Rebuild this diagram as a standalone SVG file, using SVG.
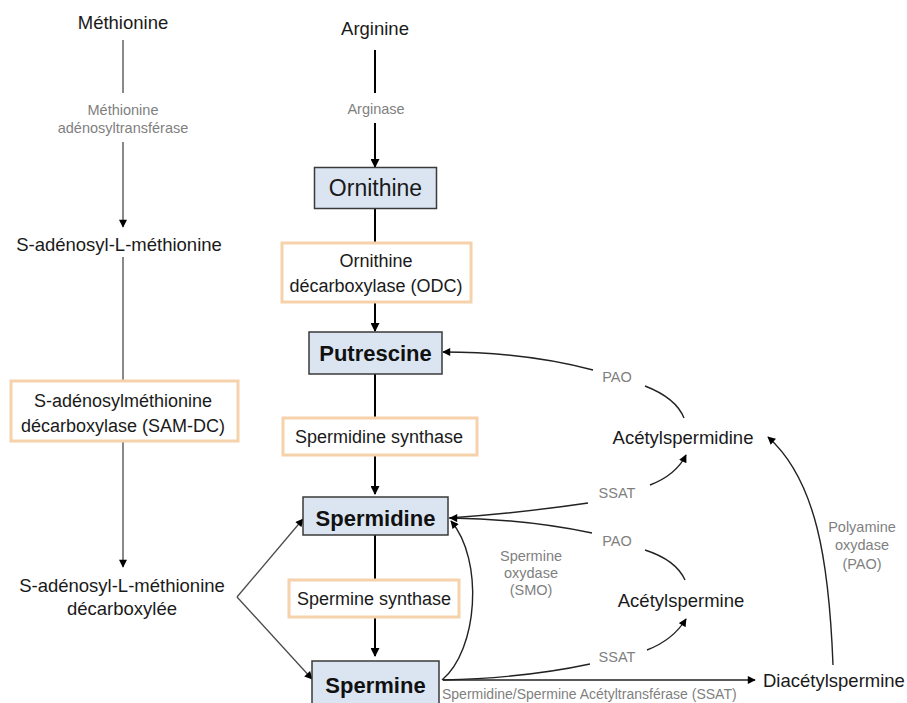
<svg xmlns="http://www.w3.org/2000/svg" width="907" height="703" viewBox="0 0 907 703">
<style>
.t{font-family:"Liberation Sans",Arial,sans-serif;fill:#1a1a1a;font-size:18.5px;text-anchor:middle;dominant-baseline:central}
.bt{font-family:"Liberation Sans",Arial,sans-serif;fill:#1a1a1a;font-size:18px;text-anchor:middle;dominant-baseline:central}
.g{font-family:"Liberation Sans",Arial,sans-serif;fill:#7f7f7f;font-size:14.5px;text-anchor:middle;dominant-baseline:central}
.b{font-family:"Liberation Sans",Arial,sans-serif;fill:#111;font-size:22px;font-weight:bold;text-anchor:middle;dominant-baseline:central}
.mol{fill:#dbe5f1;stroke:#3a3a3a;stroke-width:1.5}
.enz{fill:#fff;stroke:#f5d2ab;stroke-width:3}
.thin{fill:none;stroke:#4a4a4a;stroke-width:1.3}
.thk{fill:none;stroke:#000;stroke-width:2}
.cur{fill:none;stroke:#222;stroke-width:1.4}
</style>
<defs>
<marker id="ah" viewBox="0 0 10 10" refX="9" refY="5" markerWidth="9" markerHeight="8" markerUnits="userSpaceOnUse" orient="auto"><path d="M0,0 L10,5 L0,10 z" fill="#000"/></marker>
<marker id="ahb" viewBox="0 0 10 10" refX="9" refY="5" markerWidth="10" markerHeight="9" markerUnits="userSpaceOnUse" orient="auto"><path d="M0,0 L10,5 L0,10 z" fill="#000"/></marker>
</defs>
<rect width="907" height="703" fill="#fff"/>

<g id="connectors">
<line class="thin" x1="123" y1="40" x2="123" y2="93"/>
<line class="thin" x1="123" y1="142" x2="123" y2="227" marker-end="url(#ah)"/>
<line class="thin" x1="123" y1="257" x2="123" y2="381"/>
<line class="thin" x1="123" y1="442" x2="123" y2="567" marker-end="url(#ah)"/>
<line class="thin" x1="237" y1="597" x2="303" y2="519" marker-end="url(#ah)"/>
<line class="thin" x1="237" y1="597" x2="312" y2="679" marker-end="url(#ah)"/>

<line class="thk" x1="375" y1="50" x2="375" y2="93"/>
<line class="thk" x1="375" y1="123" x2="375" y2="167" marker-end="url(#ahb)"/>
<line class="thk" x1="375" y1="209" x2="375" y2="243"/>
<line class="thk" x1="375" y1="302" x2="375" y2="331" marker-end="url(#ahb)"/>
<line class="thk" x1="375" y1="374" x2="375" y2="418"/>
<line class="thk" x1="375" y1="455" x2="375" y2="494" marker-end="url(#ahb)"/>
<line class="thk" x1="375" y1="535" x2="375" y2="580"/>
<line class="thk" x1="375" y1="617" x2="375" y2="656" marker-end="url(#ahb)"/>

<path class="cur" d="M593,370 Q525,352 443,352" marker-end="url(#ah)"/>
<path class="cur" d="M645,386 Q676,398 684,418"/>
<path class="cur" d="M449,518 Q520,513 588,503"/>
<path class="cur" d="M650,485 Q676,475 686,455" marker-end="url(#ah)"/>
<path class="cur" d="M685,580 Q676,560 645,550"/>
<path class="cur" d="M592,533 Q525,519 450,518" marker-end="url(#ah)"/>
<path class="cur" d="M442,680 C478,650 484,560 451,521" marker-end="url(#ah)"/>
<path class="cur" d="M443,680 Q525,678 590,664"/>
<path class="cur" d="M647,650 Q673,640 686,619" marker-end="url(#ah)"/>
<line class="cur" x1="443" y1="680" x2="755" y2="680" marker-end="url(#ah)"/>
<path class="cur" d="M833,665 C829,560 816,480 768,437" marker-end="url(#ah)"/>
</g>

<g id="methionine"><text class="t" x="123" y="22">Méthionine</text></g>
<g id="mat-label"><text class="g" x="123" y="110">Méthionine</text><text class="g" x="123" y="128">adénosyltransférase</text></g>
<g id="sam"><text class="t" x="119" y="244">S-adénosyl-L-méthionine</text></g>
<g id="samdc">
<rect class="enz" x="11" y="381" width="227" height="60"/>
<text class="bt" x="123" y="401">S-adénosylméthionine</text>
<text class="bt" x="123" y="426">décarboxylase (SAM-DC)</text>
</g>
<g id="dcsam"><text class="t" x="122" y="585">S-adénosyl-L-méthionine</text><text class="t" x="122" y="608">décarboxylée</text></g>

<g id="arginine"><text class="t" x="375" y="28">Arginine</text></g>
<g id="arginase"><text class="g" x="376" y="109">Arginase</text></g>
<g id="ornithine">
<rect class="mol" x="314.5" y="167.5" width="122" height="41"/>
<text class="bt" x="375.5" y="188" style="font-size:23px">Ornithine</text>
</g>
<g id="odc">
<rect class="enz" x="282" y="243" width="189" height="59"/>
<text class="bt" x="376" y="261">Ornithine</text>
<text class="bt" x="376" y="286">décarboxylase (ODC)</text>
</g>
<g id="putrescine">
<rect class="mol" x="309" y="332" width="133" height="42"/>
<text class="b" x="375.5" y="353">Putrescine</text>
</g>
<g id="spd-synthase">
<rect class="enz" x="283" y="418" width="194" height="37"/>
<text class="bt" x="379" y="437">Spermidine synthase</text>
</g>
<g id="spermidine">
<rect class="mol" x="303" y="497" width="145" height="38"/>
<text class="b" x="375.5" y="518">Spermidine</text>
</g>
<g id="spm-synthase">
<rect class="enz" x="289" y="580" width="170" height="37"/>
<text class="bt" x="374" y="599">Spermine synthase</text>
</g>
<g id="spermine">
<rect class="mol" x="312" y="661" width="127" height="46"/>
<text class="b" x="375.5" y="685">Spermine</text>
</g>

<g id="acetylspermidine"><text class="t" x="683" y="437">Acétylspermidine</text></g>
<g id="acetylspermine"><text class="t" x="681" y="600">Acétylspermine</text></g>
<g id="diacetylspermine"><text class="t" x="763" y="680" style="text-anchor:start">Diacétylspermine</text></g>

<g id="labels">
<text class="g" x="617" y="377">PAO</text>
<text class="g" x="617" y="493">SSAT</text>
<text class="g" x="617" y="541">PAO</text>
<text class="g" x="617" y="657">SSAT</text>
<text class="g" x="531" y="556">Spermine</text>
<text class="g" x="531" y="573">oxydase</text>
<text class="g" x="531" y="590">(SMO)</text>
<text class="g" x="862" y="527">Polyamine</text>
<text class="g" x="862" y="545">oxydase</text>
<text class="g" x="862" y="564">(PAO)</text>
<text class="g" x="442" y="694" style="text-anchor:start;font-size:14px">Spermidine/Spermine Acétyltransférase (SSAT)</text>
</g>
</svg>
